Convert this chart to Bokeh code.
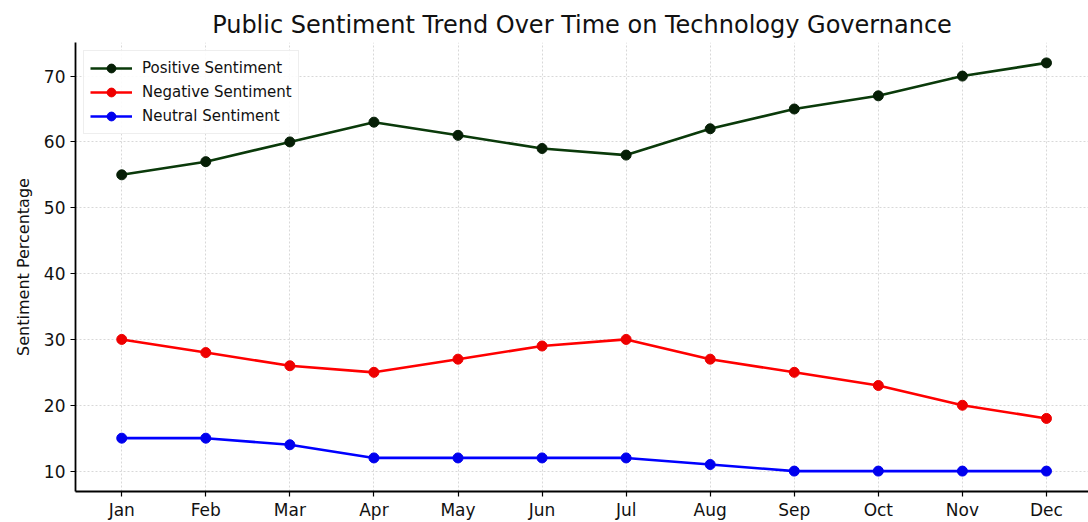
from bokeh.plotting import figure
from bokeh.models import FixedTicker, Legend, LegendItem
from bokeh.embed import file_html
from bokeh.resources import INLINE

months = ["Jan", "Feb", "Mar", "Apr", "May", "Jun", "Jul", "Aug", "Sep", "Oct", "Nov", "Dec"]
positive = [55, 57, 60, 63, 61, 59, 58, 62, 65, 67, 70, 72]
negative = [30, 28, 26, 25, 27, 29, 30, 27, 25, 23, 20, 18]
neutral = [15, 15, 14, 12, 12, 12, 12, 11, 10, 10, 10, 10]
y_ticks = [10, 20, 30, 40, 50, 60, 70]

FONT = "DejaVu Sans"
x = list(range(len(months)))

p = figure(width=1088, height=522, output_backend="svg", toolbar_location=None,
           x_range=(-0.55, 11.5), y_range=(6.9, 75.1),
           min_border_left=75, min_border_right=0, min_border_top=42, min_border_bottom=30)

p.title.text = "Public Sentiment Trend Over Time on Technology Governance"
p.title.text_font = FONT
p.title.text_font_size = "24px"
p.title.text_font_style = "normal"
p.title.align = "center"
p.title.text_color = "#111111"
p.title.offset = 0
p.title.standoff = 8

p.outline_line_color = None
p.background_fill_color = "white"
p.border_fill_color = "white"

for ax in (p.xaxis[0], p.yaxis[0]):
    ax.axis_line_color = "black"
    ax.axis_line_width = 1.8
    ax.major_tick_line_color = "black"
    ax.major_tick_line_width = 1.2
    ax.major_tick_out = 5
    ax.major_tick_in = 0
    ax.minor_tick_line_color = None
    ax.major_label_text_font = FONT
    ax.major_label_text_font_size = "17px"
    ax.major_label_text_color = "#111111"

p.xaxis.major_label_standoff = 3
p.xaxis.ticker = FixedTicker(ticks=x)
p.xaxis.major_label_overrides = {i: m for i, m in enumerate(months)}
p.yaxis.ticker = FixedTicker(ticks=y_ticks)
p.yaxis.axis_label = "Sentiment Percentage"
p.yaxis.axis_label_text_font = FONT
p.yaxis.axis_label_text_font_size = "16px"
p.yaxis.axis_label_text_font_style = "normal"
p.yaxis.axis_label_text_color = "#111111"
p.yaxis.axis_label_standoff = 8

p.grid.grid_line_color = "#d8d8d8"
p.grid.grid_line_dash = "2 2"
p.grid.grid_line_width = 1

series = [
    ("Positive Sentiment", positive, "#0a3a0a", "#061f06"),
    ("Negative Sentiment", negative, "#ff0000", "#ee0000"),
    ("Neutral Sentiment", neutral, "#0000ff", "#0000ee"),
]
items = []
for label, vals, lc, mc in series:
    r1 = p.line(x, vals, line_color=lc, line_width=2.6)
    r2 = p.scatter(x, vals, size=10, fill_color=mc, line_color=mc)
    items.append(LegendItem(label=label, renderers=[r1, r2]))

legend = Legend(items=items, location="top_left")
legend.label_text_font = FONT
legend.label_text_font_size = "15px"
legend.label_text_color = "#111111"
legend.border_line_color = "#dddddd"
legend.border_line_width = 1
legend.background_fill_alpha = 0.9
legend.margin = 8
legend.padding = 6
legend.spacing = 2
legend.glyph_width = 42
legend.label_height = 22
legend.glyph_height = 22
legend.label_standoff = 10
p.add_layout(legend)

open("out.html", "w").write(file_html(p, INLINE))
